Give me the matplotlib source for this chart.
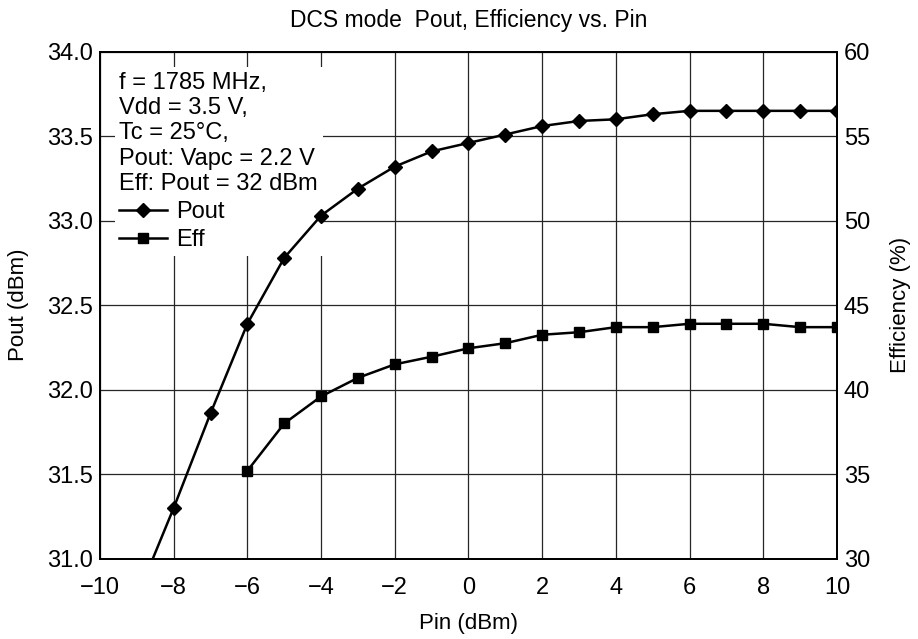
import matplotlib
matplotlib.use("Agg")
import matplotlib.pyplot as plt

plt.rcParams['font.family'] = ['Liberation Sans', 'DejaVu Sans']

# data
pin_pout = [-9, -8, -7, -6, -5, -4, -3, -2, -1, 0, 1, 2, 3, 4, 5, 6, 7, 8, 9, 10]
pout = [30.77, 31.30, 31.86, 32.39, 32.78, 33.03, 33.19, 33.32, 33.41, 33.46,
        33.51, 33.56, 33.59, 33.60, 33.63, 33.65, 33.65, 33.65, 33.65, 33.65]

pin_eff = [-6, -5, -4, -3, -2, -1, 0, 1, 2, 3, 4, 5, 6, 7, 8, 9, 10]
eff = [35.2, 38.0, 39.6, 40.7, 41.5, 41.95, 42.45, 42.75, 43.25, 43.4,
       43.7, 43.7, 43.9, 43.9, 43.9, 43.7, 43.7]

x_ticks = [-10, -8, -6, -4, -2, 0, 2, 4, 6, 8, 10]
pout_ticks = [31.0, 31.5, 32.0, 32.5, 33.0, 33.5, 34.0]
eff_ticks = [30, 35, 40, 45, 50, 55, 60]

cond_text = "f = 1785 MHz,\nVdd = 3.5 V,\nTc = 25\u00b0C,\nPout: Vapc = 2.2 V\nEff: Pout = 32 dBm"

fig = plt.figure(figsize=(9.18, 6.39), dpi=100)
ax = fig.add_axes([0.1089, 0.1257, 0.8028, 0.7934])
ax2 = ax.twinx()

l1, = ax.plot(pin_pout, pout, color='black', lw=1.8, marker='D', ms=7, zorder=3)
l2, = ax2.plot(pin_eff, eff, color='black', lw=1.8, marker='s', ms=7.5, zorder=3)

ax.set_xlim(-10, 10)
ax.set_ylim(31, 34)
ax2.set_ylim(30, 60)
ax.set_xticks(x_ticks)
ax.set_yticks(pout_ticks)
ax.set_yticklabels([f"{v:.1f}" for v in pout_ticks])
ax2.set_yticks(eff_ticks)

ax.grid(True, color='0.15', lw=0.9)
ax.set_axisbelow(True)

for a in (ax, ax2):
    for s in a.spines.values():
        s.set_linewidth(1.3)
        s.set_color('black')
ax.tick_params(axis='x', length=0, pad=13, labelsize=17)
ax.tick_params(axis='y', length=0, pad=5, labelsize=17)
ax2.tick_params(axis='y', length=0, pad=5, labelsize=17)

ax.set_xlabel("Pin (dBm)", fontsize=16, labelpad=10)
ax.set_ylabel("Pout (dBm)", fontsize=16, labelpad=13)
ax2.set_ylabel("Efficiency (%)", fontsize=16, labelpad=14)
ax.set_title("DCS mode  Pout, Efficiency vs. Pin", fontsize=16.5, pad=18)

leg = ax.legend([l1, l2], ["Pout", "Eff"], title=cond_text, alignment='left',
                loc='upper left', bbox_to_anchor=(0.02, 0.97), borderaxespad=0,
                fontsize=17, title_fontsize=17, frameon=True, fancybox=False,
                framealpha=1, facecolor='white', edgecolor='none',
                handlelength=2.0, handletextpad=0.4, borderpad=0.2,
                labelspacing=0.25)
leg.set_zorder(2.5)

fig.savefig("out.png", dpi=100)
